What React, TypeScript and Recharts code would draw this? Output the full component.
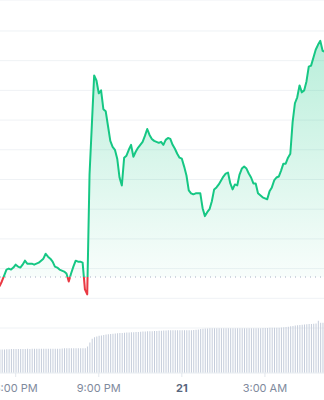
import {
  Area,
  Bar,
  CartesianGrid,
  ComposedChart,
  ReferenceLine,
  XAxis,
  YAxis,
} from "recharts";

/* 5 minute samples, minutes counted from 6:00 PM (first sample 5:25 PM) */
const START_MIN = -35;
const STEP_MIN = 5;

const prices = [
  1.242, 1.247, 1.253, 1.259, 1.26, 1.259, 1.261, 1.264, 1.262, 1.261,
  1.264, 1.268, 1.265, 1.265, 1.265, 1.264, 1.265, 1.266, 1.268, 1.27,
  1.275, 1.272, 1.27, 1.267, 1.262, 1.261, 1.259, 1.258, 1.257, 1.255,
  1.247, 1.255, 1.262, 1.268, 1.267, 1.267, 1.266, 1.239, 1.234, 1.355,
  1.405, 1.455, 1.45, 1.437, 1.44, 1.421, 1.419, 1.404, 1.389, 1.383,
  1.38, 1.371, 1.352, 1.344, 1.372, 1.374, 1.38, 1.385, 1.373, 1.378,
  1.382, 1.385, 1.388, 1.394, 1.401, 1.395, 1.391, 1.389, 1.388, 1.387,
  1.388, 1.385, 1.39, 1.392, 1.391, 1.385, 1.381, 1.376, 1.372, 1.371,
  1.363, 1.354, 1.339, 1.336, 1.335, 1.336, 1.336, 1.336, 1.321, 1.313,
  1.317, 1.32, 1.328, 1.34, 1.342, 1.345, 1.349, 1.353, 1.356, 1.357,
  1.346, 1.34, 1.345, 1.344, 1.355, 1.361, 1.363, 1.361, 1.356, 1.352,
  1.346, 1.346, 1.336, 1.334, 1.332, 1.331, 1.33, 1.338, 1.342, 1.349,
  1.352, 1.353, 1.359, 1.366, 1.366, 1.372, 1.376, 1.408, 1.427, 1.433,
  1.445, 1.438, 1.44, 1.449, 1.464, 1.465, 1.473, 1.481, 1.486, 1.49,
  1.48, 1.479,
];

/* rolling 24h volume, millions */
const volumes = [
  47.0, 47.0, 47.2, 47.4, 47.6, 47.8, 48.0, 48.0, 48.1, 48.1,
  48.2, 48.2, 48.3, 48.2, 48.3, 48.3, 48.4, 48.4, 48.3, 48.4,
  48.5, 48.5, 48.4, 48.5, 48.6, 48.5, 48.6, 49.2, 49.3, 49.3,
  49.4, 49.4, 49.3, 49.4, 49.5, 49.5, 49.4, 49.6, 53.0, 61.0,
  68.5, 71.5, 73.0, 74.4, 75.2, 76.0, 76.8, 77.4, 78.0, 78.5,
  78.9, 79.4, 79.8, 80.1, 80.5, 80.8, 81.1, 81.4, 81.6, 81.9,
  82.2, 82.6, 82.8, 83.0, 83.3, 83.5, 83.7, 83.9, 84.2, 84.4,
  84.6, 84.8, 85.1, 85.4, 85.6, 85.6, 85.5, 85.6, 85.7, 85.6,
  85.6, 85.7, 85.6, 85.7, 85.8, 86.4, 87.2, 88.0, 88.4, 88.8,
  89.1, 89.3, 89.4, 89.3, 89.4, 89.4, 89.3, 89.4, 89.4, 89.5,
  89.4, 89.4, 89.5, 89.4, 89.5, 89.4, 89.5, 89.4, 89.5, 89.4,
  89.5, 89.5, 89.4, 89.6, 89.8, 90.0, 90.2, 90.4, 90.4, 90.4,
  90.5, 90.4, 91.0, 91.4, 91.8, 92.6, 93.4, 94.2, 95.0, 95.6,
  96.0, 96.4, 96.9, 97.4, 97.8, 98.2, 98.6, 99.2, 104.4, 100.6,
  100.6, 100.6,
];

const OPEN_PRICE = 1.2515;

const tickMinutes = [0, 180, 360, 540];
const tickLabels = ["6:00 PM", "9:00 PM", "21", "3:00 AM"];
const priceTicks = [1.2, 1.23, 1.26, 1.29, 1.32, 1.35, 1.38, 1.41, 1.44, 1.47, 1.5];

const GREEN = "#16c784";
const RED = "#ea3943";

const data = prices.map((price, i) => ({
  t: START_MIN + i * STEP_MIN,
  price,
  vol: volumes[i],
}));

const hi = Math.max(...prices);
const lo = Math.min(...prices);
// where the open price sits inside the line's bounding box
const split = (hi - OPEN_PRICE) / (hi - lo);

const TimeTick = ({ x, y, payload }: any) => {
  const label = tickLabels[tickMinutes.indexOf(payload.value)];
  const isDay = label === "21";
  return (
    <text
      x={x}
      y={y}
      dy={13}
      textAnchor="middle"
      fontFamily="Inter, sans-serif"
      fontSize={11}
      fontWeight={isDay ? 700 : 400}
      fill={isDay ? "#58667e" : "#808a9d"}
    >
      {label}
    </text>
  );
};

const App = () => (
  <div style={{ position: "absolute", left: 0, top: 0, width: 324, height: 400, overflow: "hidden" }}>
    <ComposedChart
      width={324}
      height={400}
      data={data}
      margin={{ top: 0, right: 0, bottom: 0, left: 0 }}
    >
      <defs>
        <linearGradient id="priceStroke" x1="0" y1="0" x2="0" y2="1">
          <stop offset={0} stopColor={GREEN} />
          <stop offset={split} stopColor={GREEN} />
          <stop offset={split} stopColor={RED} />
          <stop offset={1} stopColor={RED} />
        </linearGradient>
        <linearGradient id="priceFill" x1="0" y1="0" x2="0" y2="1">
          <stop offset={0} stopColor={GREEN} stopOpacity={0.3} />
          <stop offset={split} stopColor={GREEN} stopOpacity={0.03} />
          <stop offset={split} stopColor={RED} stopOpacity={0.03} />
          <stop offset={1} stopColor={RED} stopOpacity={0.15} />
        </linearGradient>
      </defs>
      <CartesianGrid vertical={false} yAxisId="p" stroke="#eff2f5" />
      <XAxis
        dataKey="t"
        type="number"
        domain={[-34, 668]}
        allowDataOverflow
        ticks={tickMinutes}
        tick={<TimeTick />}
        height={27}
        interval={0}
        axisLine={{ stroke: "#eff2f5" }}
        tickLine={{ stroke: "#e3e7ed" }}
        tickSize={4}
        tickMargin={2}
      />
      <YAxis
        yAxisId="p"
        hide
        type="number"
        domain={[1.15455, 1.53128]}
        ticks={priceTicks}
        allowDataOverflow
      />
      <YAxis yAxisId="v" hide type="number" domain={[0, 746]} allowDataOverflow />
      <Bar
        yAxisId="v"
        dataKey="vol"
        barSize={1}
        fill="#c5cddb"
        isAnimationActive={false}
      />
      <ReferenceLine
        yAxisId="p"
        y={OPEN_PRICE}
        stroke="#a6b0c3"
        strokeDasharray="1 4"
      />
      <Area
        yAxisId="p"
        type="linear"
        dataKey="price"
        baseValue={OPEN_PRICE}
        stroke="url(#priceStroke)"
        strokeWidth={2}
        strokeLinejoin="round"
        fill="url(#priceFill)"
        fillOpacity={1}
        dot={false}
        activeDot={false}
        isAnimationActive={false}
      />
    </ComposedChart>
  </div>
);

export default App;
